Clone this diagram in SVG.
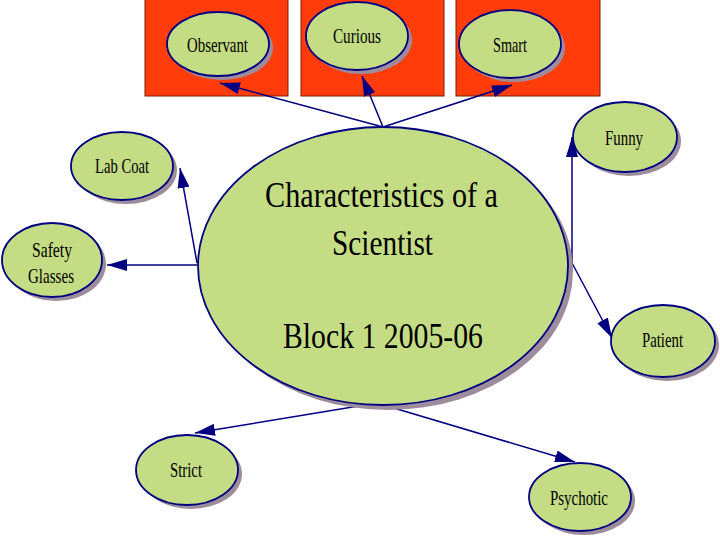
<svg xmlns="http://www.w3.org/2000/svg" width="720" height="540" viewBox="0 0 720 540">
<style>
.bg{fill:#FF3C0A;stroke:#7a1a00;stroke-width:1}
.sh{fill:#9C8C9C}
.nd{fill:#C4DC84;stroke:#000080;stroke-width:1.8}
.t{font-size:21px;fill:#000;text-anchor:middle}
.big{font-size:36px;fill:#000;text-anchor:middle}
.e{stroke:#000080;stroke-width:1.5;fill:none;marker-end:url(#ah)}
</style>
<defs>
<marker id="ah" markerUnits="userSpaceOnUse" markerWidth="20" markerHeight="12" refX="20" refY="6" orient="auto">
<path d="M0,0 L20,6 L0,12 z" fill="#000080"/>
</marker>
</defs>
<rect width="720" height="540" fill="#fff"/>
<g id="backgrounds">
<rect class="bg" x="145" y="-1" width="143" height="97"/>
<rect class="bg" x="301" y="-1" width="143" height="97"/>
<rect class="bg" x="456" y="-1" width="144" height="97"/>
</g>
<g id="connectors">
<line class="e" x1="383" y1="127" x2="220" y2="83"/>
<line class="e" x1="383" y1="127" x2="362" y2="76"/>
<line class="e" x1="383" y1="127" x2="512" y2="85"/>
<line class="e" x1="197" y1="263" x2="180" y2="168"/>
<line class="e" x1="197" y1="265" x2="107" y2="265"/>
<line class="e" x1="572" y1="263" x2="572" y2="137"/>
<line class="e" x1="572" y1="263" x2="612" y2="338"/>
<line class="e" x1="377" y1="403" x2="195" y2="433"/>
<line class="e" x1="377" y1="403" x2="575" y2="462"/>
</g>
<g font-family="'Liberation Serif', 'DejaVu Serif', 'Times New Roman', serif">
<g id="center">
<ellipse class="sh" cx="388" cy="271" rx="185" ry="139"/>
<ellipse class="nd" cx="383" cy="266" rx="185" ry="139"/>
<text class="big" x="381.5" y="207" textLength="233" lengthAdjust="spacingAndGlyphs">Characteristics of a</text>
<text class="big" x="382.5" y="255" textLength="101" lengthAdjust="spacingAndGlyphs">Scientist</text>
<text class="big" x="383" y="348" textLength="200" lengthAdjust="spacingAndGlyphs">Block 1 2005-06</text>
</g>
<g id="observant">
<ellipse class="sh" cx="222" cy="48" rx="51" ry="32"/>
<ellipse class="nd" cx="218" cy="44" rx="51" ry="32"/>
<text class="t" x="217.5" y="51.5" textLength="61" lengthAdjust="spacingAndGlyphs">Observant</text>
</g>
<g id="curious">
<ellipse class="sh" cx="361" cy="40" rx="51" ry="34"/>
<ellipse class="nd" cx="357" cy="36" rx="51" ry="34"/>
<text class="t" x="357" y="43" textLength="48" lengthAdjust="spacingAndGlyphs">Curious</text>
</g>
<g id="smart">
<ellipse class="sh" cx="514" cy="48" rx="51" ry="34"/>
<ellipse class="nd" cx="510" cy="44" rx="51" ry="34"/>
<text class="t" x="510" y="52" textLength="34" lengthAdjust="spacingAndGlyphs">Smart</text>
</g>
<g id="labcoat">
<ellipse class="sh" cx="126" cy="170" rx="51" ry="34"/>
<ellipse class="nd" cx="122" cy="166" rx="51" ry="34"/>
<text class="t" x="122" y="173" textLength="54" lengthAdjust="spacingAndGlyphs">Lab Coat</text>
</g>
<g id="safety">
<ellipse class="sh" cx="56" cy="264" rx="50" ry="37"/>
<ellipse class="nd" cx="52" cy="260" rx="50" ry="37"/>
<text class="t" x="52" y="257" textLength="40" lengthAdjust="spacingAndGlyphs">Safety</text>
<text class="t" x="51" y="283" textLength="46" lengthAdjust="spacingAndGlyphs">Glasses</text>
</g>
<g id="funny">
<ellipse class="sh" cx="629" cy="141" rx="52" ry="35"/>
<ellipse class="nd" cx="625" cy="137" rx="52" ry="35"/>
<text class="t" x="624" y="145" textLength="38" lengthAdjust="spacingAndGlyphs">Funny</text>
</g>
<g id="patient">
<ellipse class="sh" cx="667" cy="345" rx="52" ry="36"/>
<ellipse class="nd" cx="663" cy="341" rx="52" ry="36"/>
<text class="t" x="662.5" y="347" textLength="41" lengthAdjust="spacingAndGlyphs">Patient</text>
</g>
<g id="strict">
<ellipse class="sh" cx="191" cy="474" rx="51" ry="35"/>
<ellipse class="nd" cx="187" cy="470" rx="51" ry="35"/>
<text class="t" x="186" y="477" textLength="32" lengthAdjust="spacingAndGlyphs">Strict</text>
</g>
<g id="psychotic">
<ellipse class="sh" cx="584" cy="501" rx="51" ry="34"/>
<ellipse class="nd" cx="580" cy="497" rx="51" ry="34"/>
<text class="t" x="579" y="505" textLength="58" lengthAdjust="spacingAndGlyphs">Psychotic</text>
</g>
</g>
</svg>
